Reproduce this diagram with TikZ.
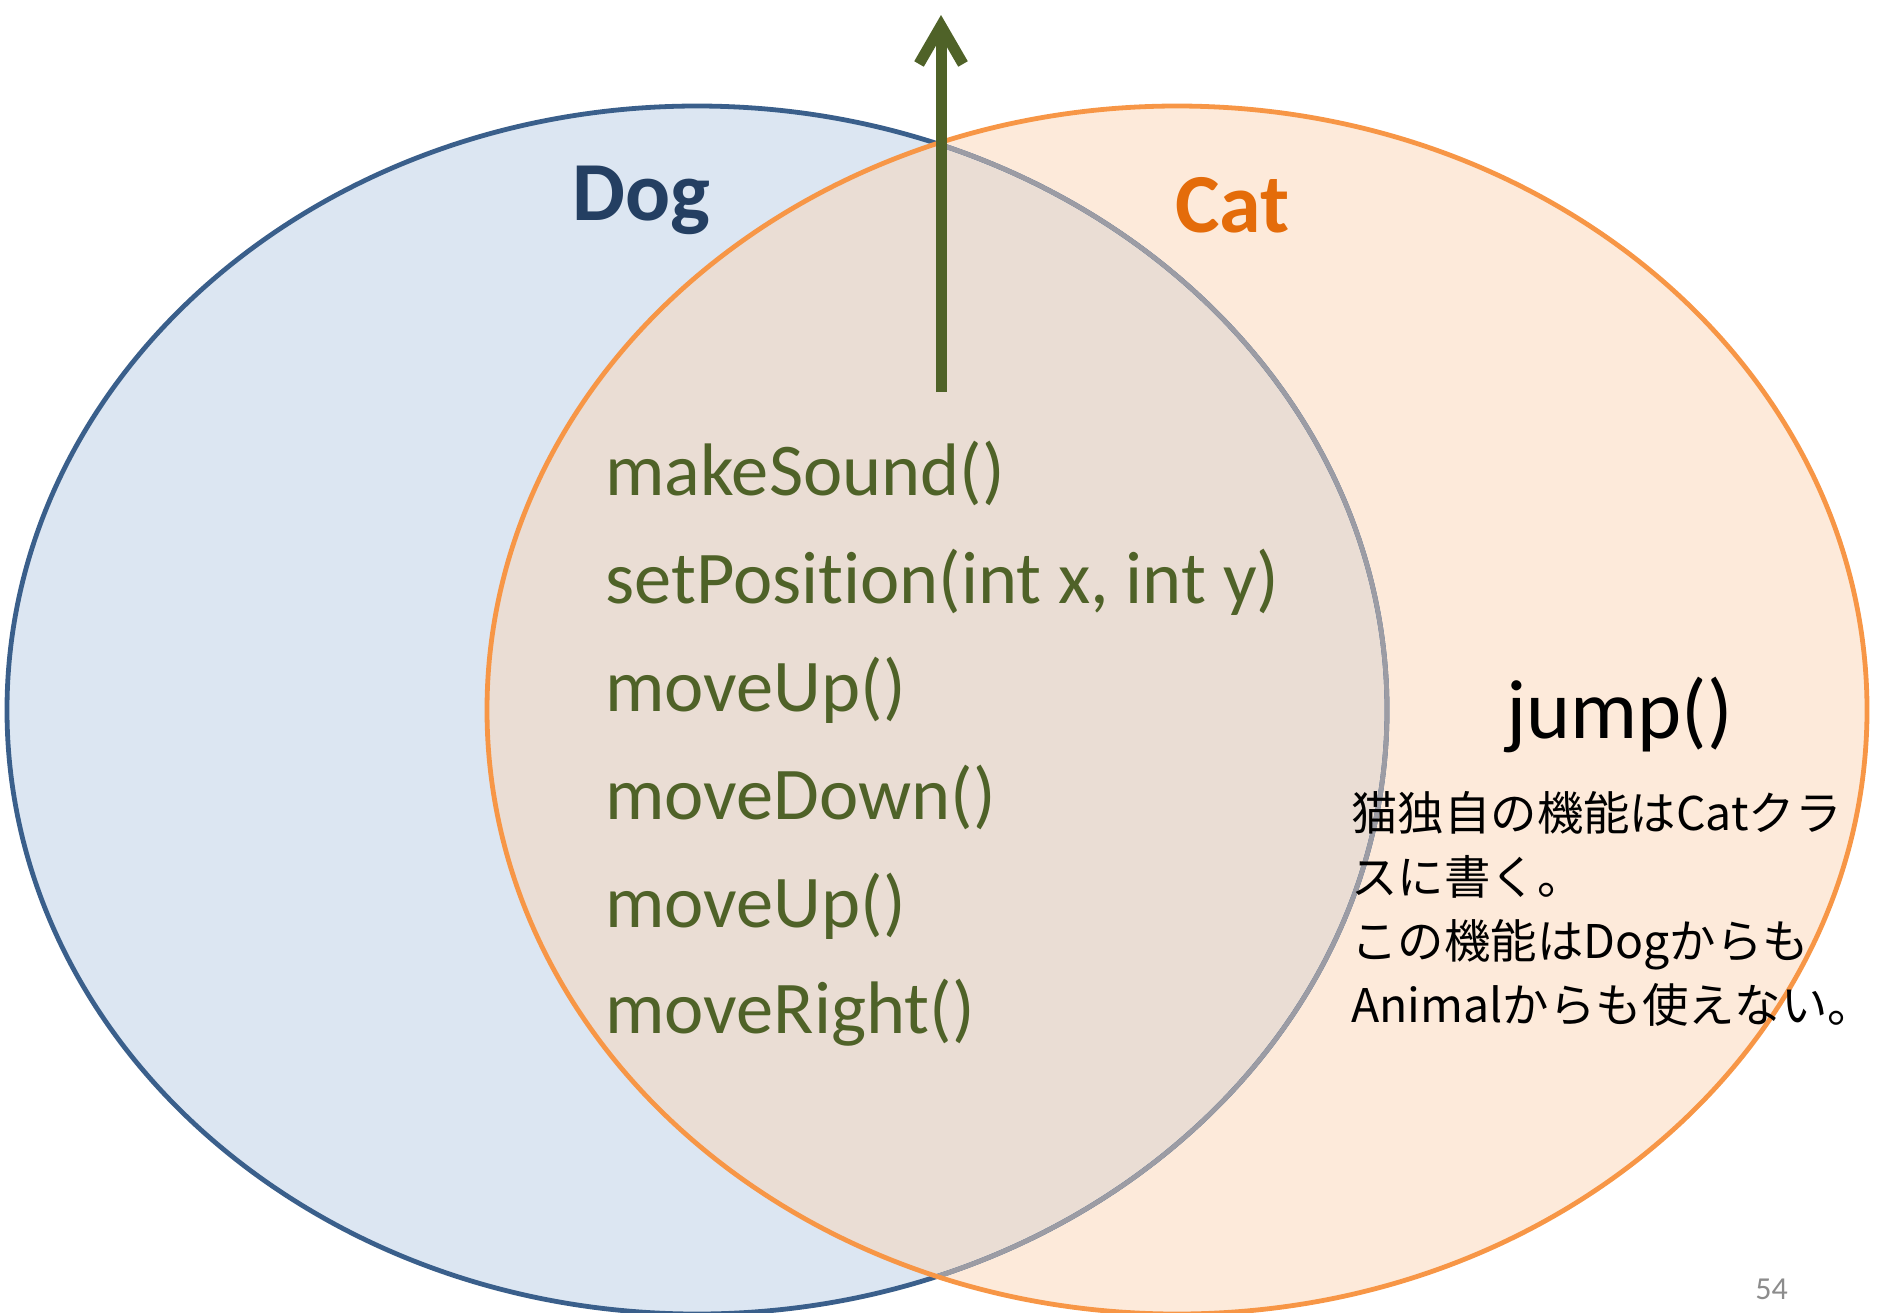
\documentclass[tikz,border=0pt]{standalone}
\usepackage{fontspec}
\setmainfont{Carlito}[Ligatures={NoCommon}]
\newfontfamily\jpfont{Noto Sans CJK JP}
\usepackage{tikz}
\usetikzlibrary{arrows.meta}

\definecolor{dogfill}{HTML}{DCE6F2}
\definecolor{dogline}{HTML}{3A5F8B}
\definecolor{dogtext}{HTML}{243F62}
\definecolor{catfill}{HTML}{FDEADA}
\definecolor{catline}{HTML}{F79646}
\definecolor{cattext}{HTML}{E46C0A}
\definecolor{bothfill}{HTML}{EADDD4}
\definecolor{bothline}{HTML}{9C9CA4}
\definecolor{methodgreen}{HTML}{4F6228}
\definecolor{pagegray}{HTML}{8C8C8C}

\begin{document}
\begin{tikzpicture}[%
    x=0.5pt, y=-0.5pt,
    set/.style={
      line width=2.4pt
    },
    title/.style={
      anchor=base west,
      inner sep=0,
      font=\fontsize{42}{50}\selectfont\bfseries
    },
    method/.style={
      anchor=base west,
      inner sep=0,
      text=methodgreen,
      font=\fontsize{37.2}{44}\selectfont
    }]
    \useasboundingbox (0,0) rectangle (1883,1312);

    \fill[dogfill] (697,710) ellipse [x radius=345pt, y radius=302pt];
    \fill[catfill] (1177,710) ellipse [x radius=345pt, y radius=302pt];
    \begin{scope}
      \clip (1177,710) ellipse [x radius=345pt, y radius=302pt];
      \fill[bothfill] (697,710) ellipse [x radius=345pt, y radius=302pt];
    \end{scope}

    \draw[set,dogline] (697,710) ellipse [x radius=345pt, y radius=302pt];
    \begin{scope}
      \clip (1177,710) ellipse [x radius=345pt, y radius=302pt];
      \draw[set,bothline] (697,710) ellipse [x radius=345pt, y radius=302pt];
    \end{scope}
    \draw[set,catline] (1177,710) ellipse [x radius=345pt, y radius=302pt];

    \node[title,text=dogtext] at (572,220) (dog) {Dog};
    \node[title,text=cattext] at (1175,232) (cat) {Cat};

    \coordinate (stem) at (941,392);
    \coordinate (tip) at (941,15);
    \draw[methodgreen,line width=5.5pt,-{Straight Barb[length=19pt,width=22pt]}]
        (stem) -- (tip);

    \node[method] at (605,495) (m1) {makeSound()};
    \node[method] at (605,603) (m2) {setPosition(int x, int y)};
    \node[method] at (605,711) (m3) {moveUp()};
    \node[method] at (605,819) (m4) {moveDown()};
    \node[method] at (605,927) (m5) {moveUp()};
    \node[method] at (605,1033) (m6) {moveRight()};

    \node[anchor=base west,inner sep=0,font=\fontsize{42}{50}\selectfont]
        at (1506,738) (jump) {jump()};
    \node[anchor=north west,inner sep=0,align=left,
        font=\jpfont\fontsize{23.2}{32}\selectfont]
        at (1351,791) (note) {猫独自の機能はCatクラ\\スに書く。\\この機能はDogからも\\Animalからも使えない。};

    \node[anchor=base west,inner sep=0,text=pagegray,font=\fontsize{16}{19}\selectfont]
        at (1755,1299) (page) {54};
\end{tikzpicture}
\end{document}
